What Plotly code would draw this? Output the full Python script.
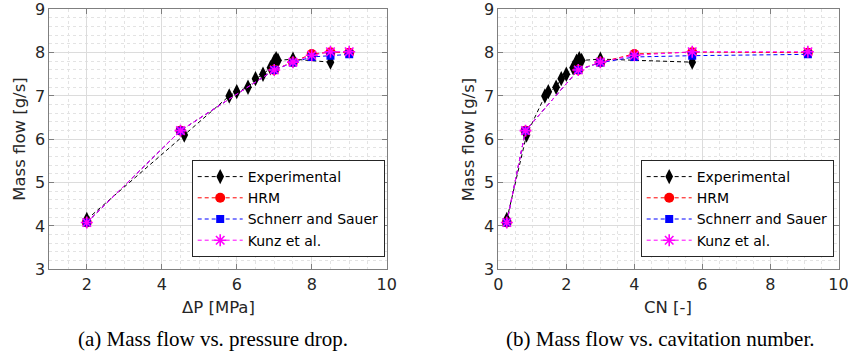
import plotly.graph_objects as go

# ---- data ----
dp_exp = [2.0, 4.6, 5.8, 6.0, 6.3, 6.5, 6.7, 6.9, 7.0, 7.05, 7.1, 7.5, 8.5]
cn_exp = [0.25, 0.83, 1.37, 1.47, 1.7, 1.85, 2.0, 2.2, 2.3, 2.38, 2.45, 3.0, 5.7]
mf_exp = [4.15, 6.1, 7.0, 7.1, 7.2, 7.4, 7.5, 7.65, 7.8, 7.86, 7.82, 7.85, 7.78]

dp_sim = [2.0, 4.5, 7.0, 7.5, 8.0, 8.5, 9.0]
cn_sim = [0.25, 0.8, 2.35, 3.0, 4.0, 5.7, 9.1]
mf_hrm = [4.08, 6.2, 7.6, 7.78, 7.97, 8.01, 8.0]
mf_ss = [4.08, 6.2, 7.6, 7.77, 7.9, 7.93, 7.96]
mf_kunz = [4.08, 6.2, 7.6, 7.78, 7.94, 8.02, 8.02]

names = ["Experimental", "HRM", "Schnerr and Sauer", "Kunz et al."]
colors = ["black", "#ff0000", "#0000ff", "#ff00ff"]
markers = [
    dict(symbol="diamond-tall", size=11, color="black"),
    dict(symbol="circle", size=10, color="#ff0000"),
    dict(symbol="square", size=8, color="#0000ff"),
    dict(symbol="asterisk-open", size=10, color="#ff00ff", line=dict(color="#ff00ff", width=1.6)),
]

W, H = 848, 354
FONT = "DejaVu Sans"

fig = go.Figure()

for panel, (xe, xs) in enumerate([(dp_exp, dp_sim), (cn_exp, cn_sim)]):
    xa = "x" if panel == 0 else "x2"
    ya = "y" if panel == 0 else "y2"
    lg = "legend" if panel == 0 else "legend2"
    series = [(xe, mf_exp), (xs, mf_hrm), (xs, mf_ss), (xs, mf_kunz)]
    for i, (xv, yv) in enumerate(series):
        fig.add_trace(go.Scatter(
            x=xv, y=yv, mode="lines+markers", name=names[i],
            line=dict(color=colors[i], width=1, dash="4px,3px"),
            marker=markers[i], xaxis=xa, yaxis=ya, legend=lg,
        ))

ydom = [1 - 269.3 / H, 1 - 9.3 / H]
axcol = "#7f7f7f"
common = dict(
    showline=True, linecolor=axcol, linewidth=1, mirror="ticks",
    ticks="inside", ticklen=5, tickcolor=axcol, tickwidth=1,
    showgrid=True, gridcolor="#dcdcdc", gridwidth=1, zeroline=False,
    tickfont=dict(family=FONT, size=16, color="#262626"),
    ticklabeloverflow="allow",
)
xminor = dict(dtick=0.5, tick0=0, showgrid=True, gridcolor="#e3e3e3", griddash="dot", ticks="")
yminor = dict(dtick=0.2, tick0=0, showgrid=True, gridcolor="#e3e3e3", griddash="dot", ticks="")

legcommon = dict(xanchor="left", y=1 - 257 / H, yanchor="bottom",
                 bgcolor="white", bordercolor="#262626", borderwidth=1,
                 font=dict(family=FONT, size=14, color="black"),
                 itemwidth=45, tracegroupgap=0)

fig.update_layout(
    width=W, height=H,
    margin=dict(l=0, r=0, t=0, b=0),
    paper_bgcolor="white", plot_bgcolor="white",
    xaxis=dict(domain=[49.3 / W, 386.7 / W], range=[1, 10], tick0=0, dtick=2,
               minor=xminor, anchor="y", automargin=False, **common),
    yaxis=dict(domain=ydom, range=[3, 9], tick0=0, dtick=1,
               minor=yminor, anchor="x", automargin=False, **common),
    xaxis2=dict(domain=[498.3 / W, 838.5 / W], range=[0, 10], tick0=0, dtick=2,
                minor=xminor, anchor="y2", automargin=False, **common),
    yaxis2=dict(domain=ydom, range=[3, 9], tick0=0, dtick=1,
                minor=yminor, anchor="x2", automargin=False, **common),
    legend=dict(x=191.7 / W, **legcommon),
    legend2=dict(x=640.7 / W, **legcommon),
)

ann = [
    dict(text="Mass flow [g/s]", x=19.5 / W, y=1 - 139.3 / H, textangle=-90, size=16.5, fam=FONT),
    dict(text="Mass flow [g/s]", x=468 / W, y=1 - 139.3 / H, textangle=-90, size=16.5, fam=FONT),
    dict(text="ΔP [MPa]", x=218 / W, y=1 - 307.5 / H, textangle=0, size=16.5, fam=FONT),
    dict(text="CN [-]", x=668 / W, y=1 - 307.5 / H, textangle=0, size=16.5, fam=FONT),
    dict(text="(a) Mass flow vs. pressure drop.", x=213 / W, y=1 - 339 / H, textangle=0, size=21, fam="Liberation Serif"),
    dict(text="(b) Mass flow vs. cavitation number.", x=660 / W, y=1 - 339 / H, textangle=0, size=21, fam="Liberation Serif"),
]
for a in ann:
    fig.add_annotation(text=a["text"], x=a["x"], y=a["y"], xref="paper", yref="paper",
                       xanchor="center", yanchor="middle", showarrow=False,
                       textangle=a["textangle"],
                       font=dict(family=a["fam"], size=a["size"], color="#262626" if a["fam"] == FONT else "black"))

fig.write_html("out.html")
